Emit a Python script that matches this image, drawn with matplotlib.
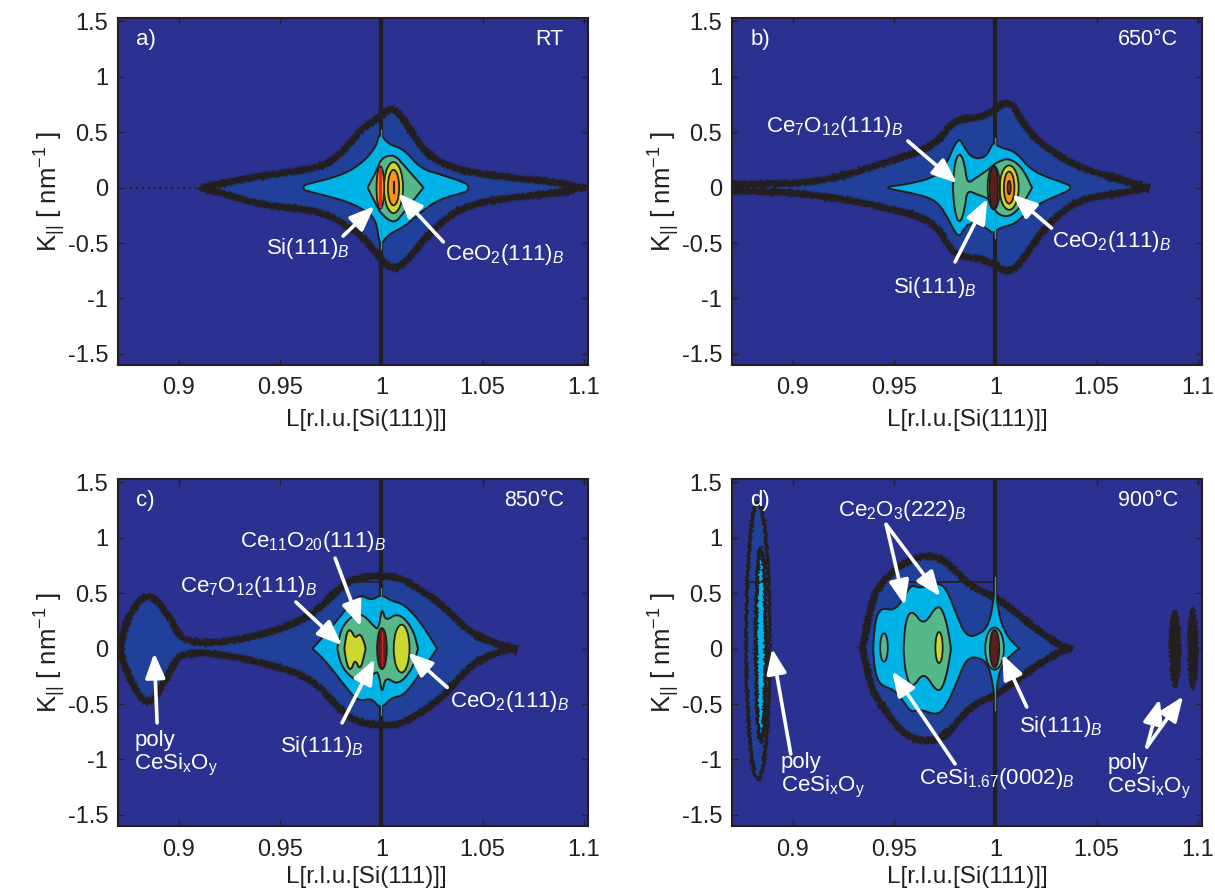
import numpy as np
import matplotlib
matplotlib.use('Agg')
import matplotlib.pyplot as plt
from matplotlib.path import Path
from matplotlib.patches import PathPatch, Ellipse

plt.rcParams['font.family'] = ['Liberation Sans', 'DejaVu Sans']
plt.rcParams['mathtext.fontset'] = 'custom'
plt.rcParams['mathtext.rm'] = 'Liberation Sans'
plt.rcParams['mathtext.it'] = 'Liberation Sans:italic'
plt.rcParams['mathtext.default'] = 'regular'

# axis ticks
x_ticks = [0.9, 0.95, 1, 1.05, 1.1]
x_tick_labels = ['0.9', '0.95', '1', '1.05', '1.1']
y_ticks = [-1.5, -1, -0.5, 0, 0.5, 1, 1.5]
y_tick_labels = ['-1.5', '-1', '-0.5', '0', '0.5', '1', '1.5']

# panel a, contours: L, upper K, lower K
a_outer_L = [.911, .925, .942, .960, .974, .984, .990, .9985, 1.006, 1.015, 1.023, 1.039, 1.063, 1.087, 1.098]
a_outer_up = [0, .05, .11, .15, .21, .38, .53, .62, .75, .50, .28, .15, .09, .05, 0]
a_outer_lo = [0, -.07, -.16, -.19, -.24, -.36, -.42, -.62, -.76, -.62, -.42, -.17, -.09, -.05, 0]
a_blue_L = [.9615, .9625, .979, .990, .9976, .9990, 1.0034, 1.011, 1.0194, 1.029, 1.042, 1.043]
a_blue_up = [.01, .03, .10, .21, .37, .50, .39, .35, .17, .12, .04, .01]
a_blue_lo = [-.01, -.03, -.10, -.18, -.28, -.54, -.42, -.36, -.22, -.10, -.04, -.01]
a_green_L = [.9932, .9976, 1.000, 1.0064, 1.0112, 1.0208]
a_green_up = [0, .15, .27, .30, .20, 0]
a_green_lo = [0, -.16, -.24, -.33, -.22, 0]
a_peaks_L = [1.006, 1.006, 0.9995]
a_peaks_dL = [.0047, .0028, .0019]
a_peaks_dK = [.23, .16, .19]
a_peaks_col = ['yellow', 'orange', 'orange']

# panel b
b_outer_L = [.860, .885, .9146, .947, .9712, .979, .9955, 1.0068, 1.015, 1.025, 1.041, 1.060, 1.075]
b_outer_up = [.03, .03, .05, .23, .38, .62, .63, .82, .53, .36, .18, .08, 0]
b_outer_lo = [-.03, -.03, -.07, -.18, -.31, -.62, -.64, -.79, -.62, -.34, -.10, -.06, 0]
b_blue_L = [.9469, .9566, .9696, .9752, .9817, .985, .989, .9955, .999, 1.002, 1.010, 1.0181, 1.036, 1.037]
b_blue_up = [.01, .03, .09, .18, .47, .35, .26, .27, .42, .36, .33, .14, .03, .01]
b_blue_lo = [-.01, -.04, -.10, -.22, -.47, -.35, -.31, -.36, -.42, -.36, -.33, -.17, -.03, -.01]
b_green_L = [.979, .980, .9825, .985, .986, .9906, .9971, .9995, 1.0011, 1.0068, 1.0133, 1.0181]
b_green_up = [.01, .24, .32, .21, .03, .09, .17, .21, .23, .27, .18, 0]
b_green_lo = [-.01, -.24, -.33, -.19, -.02, -.06, -.10, -.19, -.24, -.27, -.16, 0]
b_peaks_L = [1.0068, 1.0068, 1.0068, 0.9992, 0.9992]
b_peaks_dL = [.0047, .0026, .0008, .0030, .0021]
b_peaks_dK = [.20, .145, .06, .195, .195]
b_peaks_col = ['yellow', 'orange', 'red', 'yellow', 'si']

# panel c, with the poly CeSixOy blob on the left
c_outer_L = [.8715, .875, .885, .8963, .9014, .922, .9466, .966, .979, .987, 1.0015, 1.011, 1.03, 1.044, 1.059, 1.066]
c_outer_up = [.05, .30, .53, .27, .06, .05, .15, .30, .54, .64, .66, .63, .40, .13, .03, 0]
c_outer_lo = [-.05, -.25, -.56, -.18, -.03, -.05, -.15, -.27, -.54, -.66, -.70, -.68, -.45, -.14, -.02, 0]
c_blue_L = [.966, .9725, .9806, .9887, .9951, .9997, 1.0049, 1.0113, 1.0194, 1.0275]
c_blue_up = [0, .13, .31, .50, .43, .49, .43, .40, .24, 0]
c_blue_lo = [0, -.11, -.305, -.485, -.44, -.55, -.44, -.425, -.215, 0]
c_green_L = [.9782, .9806, .9895, .9968, .9987, 1.0003, 1.002, 1.0081, 1.0154, 1.0181]
c_green_up = [0, .22, .34, .19, .175, .38, .24, .33, .19, 0]
c_green_lo = [0, -.185, -.32, -.215, -.215, -.42, -.245, -.335, -.185, 0]
c_yellow_L = [.9817, .983, .9851, .987, .9895, .9916, .9922]
c_yellow_up = [0, .16, .17, .09, .14, .055, 0]
c_yellow_lo = [0, -.155, -.20, -.09, -.20, -.06, 0]
c_peaks_L = [1.010, 1.0003]
c_peaks_dL = [.0039, .0024]
c_peaks_dK = [.216, .185]
c_peaks_col = ['yellow', 'si']

# panel d
d_outer_L = [.9345, .9388, .9437, .955, .9664, .976, .9874, 1.002, 1.0149, 1.031, 1.037]
d_outer_up = [0, .42, .60, .78, .85, .79, .56, .45, .25, .03, 0]
d_outer_lo = [0, -.36, -.515, -.785, -.845, -.785, -.515, -.41, -.215, -.035, 0]
d_blue_L = [.9397, .9408, .9437, .9501, .955, .9583, .9631, .9712, .976, .9809, .9858, .9922, .9963, .9987, 1.0, 1.0011, 1.0052, 1.0117]
d_blue_up = [.03, .27, .37, .34, .46, .58, .54, .60, .54, .30, .10, .13, .20, .37, .62, .34, .12, 0]
d_blue_lo = [-.035, -.24, -.335, -.37, -.485, -.575, -.545, -.605, -.515, -.305, -.08, -.08, -.14, -.305, -.52, -.245, -.095, 0]
d_green_L = [.9547, .9558, .9591, .9647, .9715, .9752, .978]
d_green_up = [.03, .27, .35, .20, .41, .30, .03]
d_green_lo = [-.035, -.245, -.365, -.20, -.41, -.305, -.035]
d_peaks_L = [.945, .9722, .9996, .9996]
d_peaks_dL = [.0019, .0018, .0046, .0023]
d_peaks_dK = [.128, .14, .19, .17]
d_peaks_col = ['green', 'yellow', 'green', 'si']
d_peaks_K = [.01, .01, 0, 0]
# the poly rings on the left and the two speckled streaks on the right
d_poly_L = [.8828, .8842]
d_poly_K = [.07, .03]
d_poly_dL = [.0058, .0024]
d_poly_dK = [1.25, .87]
d_poly_col = ['outer', 'blue']
d_streak_L = [1.0887, 1.0975]
d_streak_dL = [.0028, .0025]
d_streak_dK = [.35, .37]

# how far the thin cyan line runs inside the Si streak
streak_K = {'a': (-.55, .52), 'b': (-.45, .45), 'c': (-.6, .55), 'd': (-.55, .65)}

colors = {'bg': '#2b3190', 'outer': '#21409a', 'blue': '#00b3e6', 'green': '#54b88a',
          'yellow': '#cbd82f', 'orange': '#f7941d', 'red': '#e01f26', 'si': '#5a2020',
          'black': '#231f20'}


def closed_path(L, up, lo):
    # smooth outline through the read points, quadratic pieces between midpoints
    p = np.array(list(zip(L, up)) + list(zip(L[::-1], lo[::-1])), dtype=float)
    mid = (p + np.roll(p, -1, axis=0)) / 2
    verts = [mid[-1]]
    codes = [Path.MOVETO]
    for i in range(len(p)):
        verts += [p[i], mid[i]]
        codes += [Path.CURVE3, Path.CURVE3]
    return Path(verts, codes)


def region(ax, L, up, lo, col, lw=1.4, z=2):
    ax.add_patch(PathPatch(closed_path(L, up, lo), facecolor=colors[col], edgecolor=colors['black'], lw=lw, zorder=z))


def band(ax, L, up, lo):
    # the noisy outer contour: solid core plus a dotted fringe
    path = closed_path(L, up, lo)
    ax.add_patch(PathPatch(path, facecolor=colors['outer'], edgecolor='none', zorder=2))
    core = PathPatch(path, facecolor='none', edgecolor=colors['black'], lw=4, zorder=2.1)
    core.set_sketch_params(scale=0.8, length=6, randomness=4)
    ax.add_patch(core)
    fringe = PathPatch(path, facecolor='none', edgecolor=colors['black'], lw=6.5, ls=(0, (0.07, 0.22)), zorder=2.1)
    ax.add_patch(fringe)


def peak(ax, L0, K0, dL, dK, col, lw=1.3, z=6, rough=False):
    e = Ellipse((L0, K0), 2 * dL, 2 * dK, facecolor=colors[col], edgecolor=colors['black'], lw=lw, zorder=z)
    if rough:
        e.set_sketch_params(scale=1.0, length=3, randomness=3)
    ax.add_patch(e)


def arrow(ax, start, end):
    ax.annotate('', xy=end, xytext=start, zorder=10,
                arrowprops=dict(arrowstyle='-|>,head_width=0.6,head_length=1.5', mutation_scale=10,
                                color='white', lw=2.6, shrinkA=0, shrinkB=0))


def label(ax, L, K, s):
    ax.text(L, K, s, color='white', fontsize=16, ha='left', va='center', zorder=11, linespacing=1.05)


si = 'Si(111)$_{\\mathit{B}}$'
ceo2 = 'CeO$_{2}$(111)$_{\\mathit{B}}$'
ce7 = 'Ce$_{7}$O$_{12}$(111)$_{\\mathit{B}}$'
ce11 = 'Ce$_{11}$O$_{20}$(111)$_{\\mathit{B}}$'
ce2 = 'Ce$_{2}$O$_{3}$(222)$_{\\mathit{B}}$'
cesi = 'CeSi$_{1.67}$(0002)$_{\\mathit{B}}$'
poly = 'poly\nCeSi$_{x}$O$_{y}$'

fig = plt.figure(figsize=(12.15, 8.9), dpi=100)
W, H = 1215.0, 890.0
boxes = {'a': (118, 18), 'b': (732, 18), 'c': (118, 479), 'd': (732, 479)}
xlabel_x = {'a': .528, 'b': .5, 'c': .528, 'd': .5}
xlabel_y = {'a': -.158, 'b': -.158, 'c': -.146, 'd': -.146}
axs = {}
for k in boxes:
    x0, y0 = boxes[k]
    ax = fig.add_axes([x0 / W, 1 - (y0 + 347) / H, 470 / W, 347 / H])
    ax.set_facecolor(colors['bg'])
    ax.set_xlim(0.87, 1.102)
    ax.set_ylim(-1.6, 1.53)
    ax.set_xticks(x_ticks)
    ax.set_xticklabels(x_tick_labels)
    ax.set_yticks(y_ticks)
    ax.set_yticklabels(y_tick_labels)
    ax.tick_params(direction='in', top=True, right=True, length=4, width=1, labelsize=17,
                   color=colors['black'], labelcolor=colors['black'], pad=7)
    ax.tick_params(axis='x', pad=9)
    for s in ax.spines.values():
        s.set_linewidth(1.5)
        s.set_color(colors['black'])
        s.set_zorder(20)
    ax.set_xlabel('L[r.l.u.[Si(111)]]', fontsize=17.5, color=colors['black'], va='center')
    ax.xaxis.set_label_coords(xlabel_x[k], xlabel_y[k])
    ax.set_ylabel('K$_{||}$ [ nm$^{-1}$ ]', fontsize=18.5, color=colors['black'], labelpad=0)
    axs[k] = ax
    ax.plot([1.0, 1.0], [-1.6, 1.53], color=colors['black'], lw=3, zorder=3)
    ax.plot([1.0, 1.0], streak_K[k], color='#12a5b5', lw=0.9, zorder=3.5)

# panel a
ax = axs['a']
band(ax, a_outer_L, a_outer_up, a_outer_lo)
ax.plot([.876, .91], [0, 0], color=colors['black'], lw=1.6, ls=':', zorder=2)
region(ax, a_blue_L, a_blue_up, a_blue_lo, 'blue', z=3.2)
region(ax, a_green_L, a_green_up, a_green_lo, 'green', z=5)
for i in range(len(a_peaks_L)):
    peak(ax, a_peaks_L[i], 0, a_peaks_dL[i], a_peaks_dK[i], a_peaks_col[i], z=6 + i)
ax.plot([.9995, .9995], [-.17, .17], color=colors['red'], lw=2, zorder=9)
ax.plot([1.006, 1.006], [-.05, .05], color=colors['black'], lw=1.5, zorder=9)

# panel b
ax = axs['b']
band(ax, b_outer_L, b_outer_up, b_outer_lo)
region(ax, b_blue_L, b_blue_up, b_blue_lo, 'blue', z=3.2)
region(ax, b_green_L, b_green_up, b_green_lo, 'green', z=5)
for i in range(len(b_peaks_L)):
    peak(ax, b_peaks_L[i], 0, b_peaks_dL[i], b_peaks_dK[i], b_peaks_col[i], z=6 + i)

# panel c
ax = axs['c']
band(ax, c_outer_L, c_outer_up, c_outer_lo)
ax.plot([.985, 1.0], [.6, .6], color=colors['black'], lw=1.2, zorder=3)
region(ax, c_blue_L, c_blue_up, c_blue_lo, 'blue', z=3.2)
region(ax, c_green_L, c_green_up, c_green_lo, 'green', z=5)
region(ax, c_yellow_L, c_yellow_up, c_yellow_lo, 'yellow', z=6)
for i in range(len(c_peaks_L)):
    peak(ax, c_peaks_L[i], 0, c_peaks_dL[i], c_peaks_dK[i], c_peaks_col[i], z=6 + i)
ax.plot([1.0003, 1.0003], [-.15, .15], color=colors['red'], lw=1.0, zorder=9)

# panel d
ax = axs['d']
band(ax, d_outer_L, d_outer_up, d_outer_lo)
ax.plot([.958, 1.0], [.6, .6], color=colors['black'], lw=1.2, zorder=3)
region(ax, d_blue_L, d_blue_up, d_blue_lo, 'blue', z=3.2)
region(ax, d_green_L, d_green_up, d_green_lo, 'green', z=5)
for i in range(len(d_peaks_L)):
    peak(ax, d_peaks_L[i], d_peaks_K[i], d_peaks_dL[i], d_peaks_dK[i], d_peaks_col[i], z=6 + i)
for i in range(len(d_poly_L)):
    peak(ax, d_poly_L[i], d_poly_K[i], d_poly_dL[i], d_poly_dK[i], d_poly_col[i], lw=2.0, z=3 + i, rough=True)
ax.plot([.878, .8875], [.6, .6], color=colors['black'], lw=1.2, zorder=6)
for i in range(len(d_streak_L)):
    peak(ax, d_streak_L[i], 0, d_streak_dL[i], d_streak_dK[i], 'black', lw=0.5, z=3, rough=True)

# panel letters and temperatures
for k, letter, temp in zip('abcd', ['a)', 'b)', 'c)', 'd)'], ['RT', '650°C', '850°C', '900°C']):
    axs[k].text(.879, 1.34, letter, color='white', fontsize=16, va='center', zorder=11)
    axs[k].text(1.09, 1.34, temp, color='white', fontsize=15.5, va='center', ha='right', zorder=11)

# annotations
ax = axs['a']
label(ax, .9432, -.55, si)
arrow(ax, (.9811, -.437), (.9966, -.167))
label(ax, 1.0316, -.60, ceo2)
arrow(ax, (1.0306, -.49), (1.0083, -.05))

ax = axs['b']
label(ax, .8869, .554, ce7)
arrow(ax, (.9568, .42), (.9811, .04))
label(ax, .9495, -.90, si)
arrow(ax, (.9801, -.67), (.9961, -.10))
label(ax, 1.0282, -.49, ceo2)
arrow(ax, (1.0277, -.365), (1.0083, -.06))

ax = axs['c']
label(ax, .9301, .97, ce11)
arrow(ax, (.9772, .815), (.9898, .2))
label(ax, .9005, .56, ce7)
arrow(ax, (.9578, .42), (.9806, .03))
label(ax, .95, -.887, si)
arrow(ax, (.9806, -.67), (.9966, -.095))
label(ax, 1.034, -.473, ceo2)
arrow(ax, (1.0325, -.35), (1.0131, -.035))
label(ax, .878, -.95, poly)
arrow(ax, (.8893, -.67), (.8879, -.04))

ax = axs['d']
label(ax, .9223, 1.25, ce2)
arrow(ax, (.9461, 1.12), (.9553, .39))
arrow(ax, (.9461, 1.12), (.9728, .47))
label(ax, .9621, -1.176, cesi)
arrow(ax, (.9801, -1.04), (.949, -.203))
label(ax, 1.0117, -.70, si)
arrow(ax, (1.0155, -.527), (1.0034, -.05))
label(ax, .8942, -1.145, poly)
arrow(ax, (.899, -.95), (.8898, 0))
label(ax, 1.0553, -1.16, poly)
arrow(ax, (1.0748, -.887), (1.0811, -.455))
arrow(ax, (1.0748, -.887), (1.0927, -.43))

fig.savefig('out.png', dpi=100)
